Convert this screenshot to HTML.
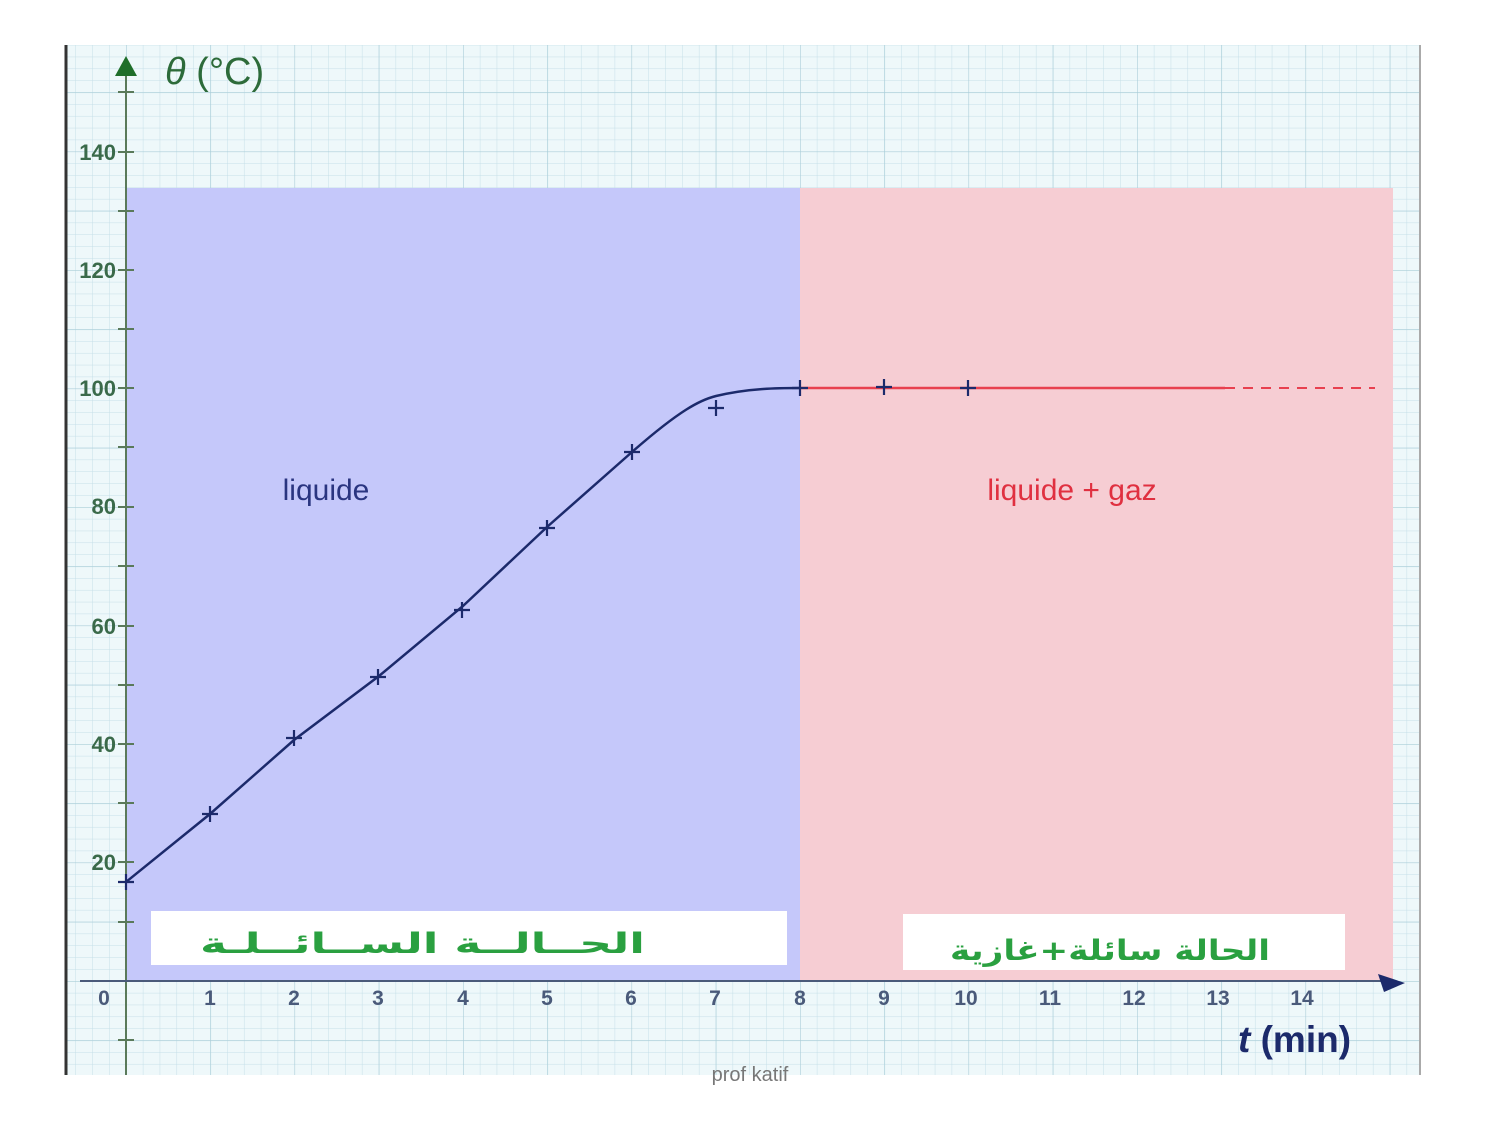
<!DOCTYPE html><html><head><style>body{margin:0;background:#fff}svg{display:block}</style></head><body>
<svg width="1500" height="1125" xmlns="http://www.w3.org/2000/svg" font-family="Liberation Sans, DejaVu Sans, sans-serif">
<defs>
<pattern id="mn" x="126" y="981" width="16.85" height="11.85" patternUnits="userSpaceOnUse"><path d="M0 0V11.85M0 0H16.85" stroke="#c5dfe8" stroke-width="1" fill="none"/></pattern>
<pattern id="mj" x="126" y="981" width="84.25" height="59.25" patternUnits="userSpaceOnUse"><path d="M0 0V59.25M0 0H84.25" stroke="#a9cdd8" stroke-width="1.2" fill="none"/></pattern>
</defs>
<rect x="66" y="45" width="1354" height="1030" fill="#eef8fa"/>
<rect x="66" y="45" width="1354" height="1030" fill="url(#mn)"/>
<rect x="66" y="45" width="1354" height="1030" fill="url(#mj)"/>
<rect x="126" y="188" width="674" height="793" fill="#c5c8fa"/>
<rect x="800" y="188" width="593" height="793" fill="#f6cdd3"/>
<line x1="66" y1="45" x2="66" y2="1075" stroke="#333" stroke-width="3"/>
<line x1="1420" y1="45" x2="1420" y2="1075" stroke="#aaa" stroke-width="2"/>
<line x1="126" y1="1075" x2="126" y2="70" stroke="#5a7a5a" stroke-width="2"/>
<polygon points="126,56 115,76 137,76" fill="#1f6e2a"/>
<line x1="80" y1="981" x2="1390" y2="981" stroke="#4a5a7a" stroke-width="2"/>
<polygon points="1405,983 1378,974 1384,992" fill="#1c2a6b"/>
<g stroke="#5a7a5a" stroke-width="2">
<line x1="118" y1="92" x2="134" y2="92"/><line x1="118" y1="152" x2="134" y2="152"/><line x1="118" y1="211" x2="134" y2="211"/><line x1="118" y1="270" x2="134" y2="270"/><line x1="118" y1="329" x2="134" y2="329"/><line x1="118" y1="388" x2="134" y2="388"/><line x1="118" y1="447" x2="134" y2="447"/><line x1="118" y1="507" x2="134" y2="507"/><line x1="118" y1="566" x2="134" y2="566"/><line x1="118" y1="626" x2="134" y2="626"/><line x1="118" y1="685" x2="134" y2="685"/><line x1="118" y1="744" x2="134" y2="744"/><line x1="118" y1="803" x2="134" y2="803"/><line x1="118" y1="862" x2="134" y2="862"/><line x1="118" y1="922" x2="134" y2="922"/><line x1="118" y1="1040" x2="134" y2="1040"/>
</g>
<g fill="#3a6a4a" font-size="22" font-weight="bold" text-anchor="end">
<text x="116" y="160">140</text><text x="116" y="278">120</text><text x="116" y="396">100</text><text x="116" y="514">80</text><text x="116" y="634">60</text><text x="116" y="752">40</text><text x="116" y="870">20</text>
</g>
<text x="165" y="84" font-size="38" fill="#2d6b3a"><tspan font-style="italic">θ</tspan> (°C)</text>
<g fill="#4a5a7a" font-size="21" font-weight="bold" text-anchor="middle">
<text x="104" y="1005">0</text><text x="210" y="1005">1</text><text x="294" y="1005">2</text><text x="378" y="1005">3</text><text x="463" y="1005">4</text><text x="547" y="1005">5</text><text x="631" y="1005">6</text><text x="715" y="1005">7</text><text x="800" y="1005">8</text><text x="884" y="1005">9</text><text x="966" y="1005">10</text><text x="1050" y="1005">11</text><text x="1134" y="1005">12</text><text x="1218" y="1005">13</text><text x="1302" y="1005">14</text>
</g>
<text x="1238" y="1052" font-size="37" font-weight="bold" fill="#1c2a6b"><tspan font-style="italic">t</tspan>  (min)</text>
<text x="326" y="500" font-size="30" fill="#2a3580" text-anchor="middle">liquide</text>
<text x="1072" y="500" font-size="30" fill="#e03040" text-anchor="middle">liquide + gaz</text>
<path d="M126 882 L210 814 L294 740 L379 676 L463 606 L547 527 L632 452 C680 410 700 400 716 396 C750 388 780 388 800 388" fill="none" stroke="#1c2a6b" stroke-width="2.5"/>
<line x1="800" y1="388" x2="1225" y2="388" stroke="#e8404f" stroke-width="2.5"/>
<line x1="1225" y1="388" x2="1375" y2="388" stroke="#e8404f" stroke-width="2" stroke-dasharray="10,8"/>
<g stroke="#1c2a6b" stroke-width="2.2">
<path d="M118 882h16M126 874v16"/><path d="M202 814h16M210 806v16"/><path d="M286 738h16M294 730v16"/><path d="M370 677h16M378 669v16"/><path d="M454 610h16M462 602v16"/><path d="M539 528h16M547 520v16"/><path d="M624 452h16M632 444v16"/><path d="M708 408h16M716 400v16"/><path d="M792 388h16M800 380v16"/><path d="M876 387h16M884 379v16"/><path d="M960 388h16M968 380v16"/>
</g>
<rect x="151" y="911" width="636" height="54" fill="#fff"/>
<rect x="903" y="914" width="442" height="56" fill="#fff"/>
<text x="200" y="953" font-size="28" fill="#2aa040" textLength="445" lengthAdjust="spacingAndGlyphs" font-family="DejaVu Sans, sans-serif" font-weight="bold">الحــالــة الســائــلـة</text>
<text x="950" y="960" font-size="28" fill="#2aa040" textLength="320" lengthAdjust="spacingAndGlyphs" font-family="DejaVu Sans, sans-serif" font-weight="bold">الحالة سائلة+غازية</text>
<text x="750" y="1081" font-size="20" fill="#777" text-anchor="middle">prof  katif</text>
</svg>
</body></html>
